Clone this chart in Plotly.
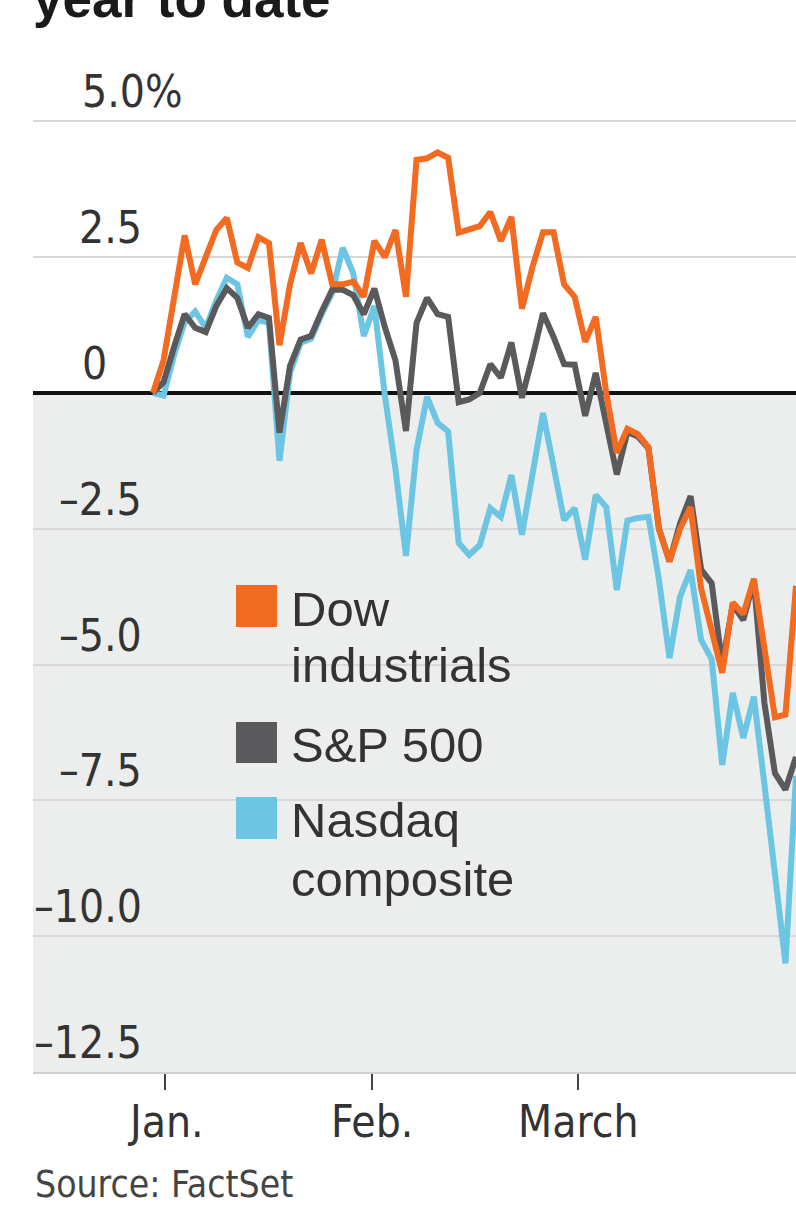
import plotly.graph_objects as go

# ---------------- data ----------------
day = list(range(62))  # trading-day index, 0 = prior year-end close
dow = [0.0, 0.6, 1.75, 2.9, 2.0, 2.5, 3.0, 3.22, 2.4, 2.3,
       2.87, 2.76, 0.88, 2.0, 2.76, 2.2, 2.82, 2.0, 2.0, 2.05,
       1.77, 2.8, 2.5, 3.0, 1.77, 4.29, 4.32, 4.43, 4.33, 2.95,
       3.0, 3.07, 3.33, 2.8, 3.24, 1.55, 2.32, 2.96, 2.96, 2.0,
       1.77, 0.94, 1.4, 0.0, -1.1, -0.66, -0.76, -1.0, -2.5, -3.1,
       -2.5, -2.1, -3.6, -4.35, -5.15, -3.86, -4.07, -3.42, -4.67, -5.97,
       -5.92, -3.55]
sp500 = [0.0, 0.2, 0.85, 1.45, 1.2, 1.12, 1.6, 1.93, 1.75, 1.2,
         1.45, 1.38, -0.73, 0.5, 0.98, 1.05, 1.5, 1.9, 1.9, 1.8,
         1.45, 1.92, 1.21, 0.6, -0.7, 1.29, 1.75, 1.45, 1.4, -0.17,
         -0.12, 0.0, 0.53, 0.28, 0.93, -0.09, 0.66, 1.47, 1.03, 0.53,
         0.52, -0.42, 0.37, -0.55, -1.5, -0.72, -0.8, -1.02, -2.5, -3.1,
         -2.4, -1.9, -3.25, -3.5, -5.0, -3.9, -4.18, -3.45, -5.7, -7.0,
         -7.3, -6.7]
nasdaq = [0.0, -0.05, 0.7, 1.3, 1.5, 1.2, 1.7, 2.12, 2.0, 1.03,
          1.34, 1.29, -1.25, 0.37, 0.92, 1.0, 1.45, 1.84, 2.67, 2.2,
          1.05, 1.6, -0.05, -1.4, -3.0, -1.05, -0.07, -0.55, -0.71, -2.76,
          -2.98, -2.8, -2.12, -2.28, -1.51, -2.61, -1.5, -0.37, -1.35, -2.34,
          -2.12, -3.07, -1.88, -2.1, -3.63, -2.35, -2.3, -2.28, -3.44, -4.88,
          -3.75, -3.26, -4.55, -4.9, -6.85, -5.52, -6.35, -5.59, -7.2, -8.85,
          -10.5, -7.05]
series_names = ["Dow", "S&P 500", "Nasdaq composite"]
month_labels = ["Jan.", "Feb.", "March"]
month_pos = [1.14, 20.78, 40.32]
ytick_vals = [5.0, 2.5, 0.0, -2.5, -5.0, -7.5, -10.0, -12.5]
ytick_text = ["5.0%", "2.5", "0", "\u20132.5", "\u20135.0", "\u20137.5", "\u201310.0", "\u201312.5"]

# ---------------- style ----------------
W, H = 796, 1211
ML, MR, MT, MB = 33, 0, 117, 139
PW, PH = W - ML - MR, H - MT - MB
C_DOW, C_SP, C_NAS = "#f26b21", "#5a5a5c", "#6cc6e3"
FILL = "#eceeed"
GRID = "#d8d8d8"
NARROW = "DejaVu Sans Condensed, DejaVu Sans, sans-serif"
REG = "Liberation Sans, Arial, sans-serif"
TXT = "#333333"

def px(xp):
    return (xp - ML) / PW

def py(yp):
    return (H - MB - yp) / PH

fig = go.Figure()
for vals, col, name in [(nasdaq, C_NAS, series_names[2]), (sp500, C_SP, series_names[1]), (dow, C_DOW, series_names[0])]:
    fig.add_trace(go.Scatter(x=day, y=vals, mode="lines", name=name,
                             line=dict(color=col, width=6, shape="linear"),
                             showlegend=False, hoverinfo="skip"))

shapes = [
    dict(type="rect", xref="paper", yref="y", x0=0, x1=1, y0=-12.5, y1=0,
         fillcolor=FILL, line=dict(width=0), layer="below"),
    # legend panel masking gridlines
    dict(type="rect", xref="paper", yref="paper", x0=px(198), x1=px(555), y0=py(915), y1=py(572),
         fillcolor=FILL, line=dict(width=0), layer="between"),
]
ann = []
# y tick labels sitting above their gridlines
for v, t in zip(ytick_vals, ytick_text):
    if t in ("0", "5.0%"):
        ann.append(dict(x=px(80), xanchor="left"))
    else:
        ann.append(dict(x=px(144), xanchor="right"))
    ann[-1].update(xref="paper", yref="y", y=v, yanchor="bottom", yshift=2, text=t, showarrow=False,
                   font=dict(family=NARROW, size=44, color=TXT))

# x tick labels (month names) below the tick marks
for p, t in zip(month_pos, month_labels):
    ann.append(dict(xref="x", yref="paper", x=p, y=py(1138 + 0.236 * 44 + 1), xanchor="center", yanchor="bottom",
                    text=t, showarrow=False, font=dict(family=NARROW, size=44, color=TXT)))

def text_at(x, baseline, text, size, family, color=TXT, bold=False, desc=0.212):
    bottom = baseline + desc * size + 1
    return dict(xref="paper", yref="paper", x=px(x), y=py(bottom), xanchor="left", yanchor="bottom",
                text=("<b>%s</b>" % text) if bold else text, showarrow=False,
                font=dict(family=family, size=size, color=color))

# legend
leg_cols = [C_DOW, C_SP, C_NAS]
leg_sq = [(585, 627), (722, 763), (797, 839)]
for col, (t0, t1) in zip(leg_cols, leg_sq):
    shapes.append(dict(type="rect", xref="paper", yref="paper", x0=px(236), x1=px(277), y0=py(t1), y1=py(t0),
                       fillcolor=col, line=dict(width=0), layer="above"))
ann.append(text_at(289, 627, "Dow", 49, REG))
ann.append(text_at(289, 683, "industrials", 49, REG))
ann.append(text_at(289, 763, "S&amp;P 500", 49, REG))
ann.append(text_at(289, 838, "Nasdaq", 49, REG))
ann.append(text_at(289, 897, "composite", 49, REG))
# title & source
ann.append(text_at(31, 18, "year to date", 53, REG, color="#1a1a1a", bold=True))
ann.append(text_at(33, 1198, "Source: FactSet", 37, NARROW, color="#444444", desc=0.236))

fig.update_layout(
    width=W, height=H, margin=dict(l=ML, r=MR, t=MT, b=MB, pad=0),
    paper_bgcolor="white", plot_bgcolor="white",
    shapes=shapes, annotations=ann, showlegend=False,
    xaxis=dict(range=[-(153 - ML) / ((796 - 153) / 61), 61], showgrid=False, zeroline=False,
               tickmode="array", tickvals=month_pos, ticktext=month_labels, showticklabels=False,
               ticks="outside", ticklen=16, tickwidth=2, tickcolor="#444444",
               showline=True, linecolor="#cfcfcf", linewidth=2),
    yaxis=dict(range=[-12.5, 5.08], tickmode="array", tickvals=ytick_vals, showticklabels=False,
               showgrid=True, gridcolor=GRID, gridwidth=2,
               zeroline=True, zerolinecolor="#111111", zerolinewidth=4),
)
fig.write_html("out.html", config={"displayModeBar": False},
               post_script="document.body.style.margin='0';document.body.style.overflow='hidden';")
